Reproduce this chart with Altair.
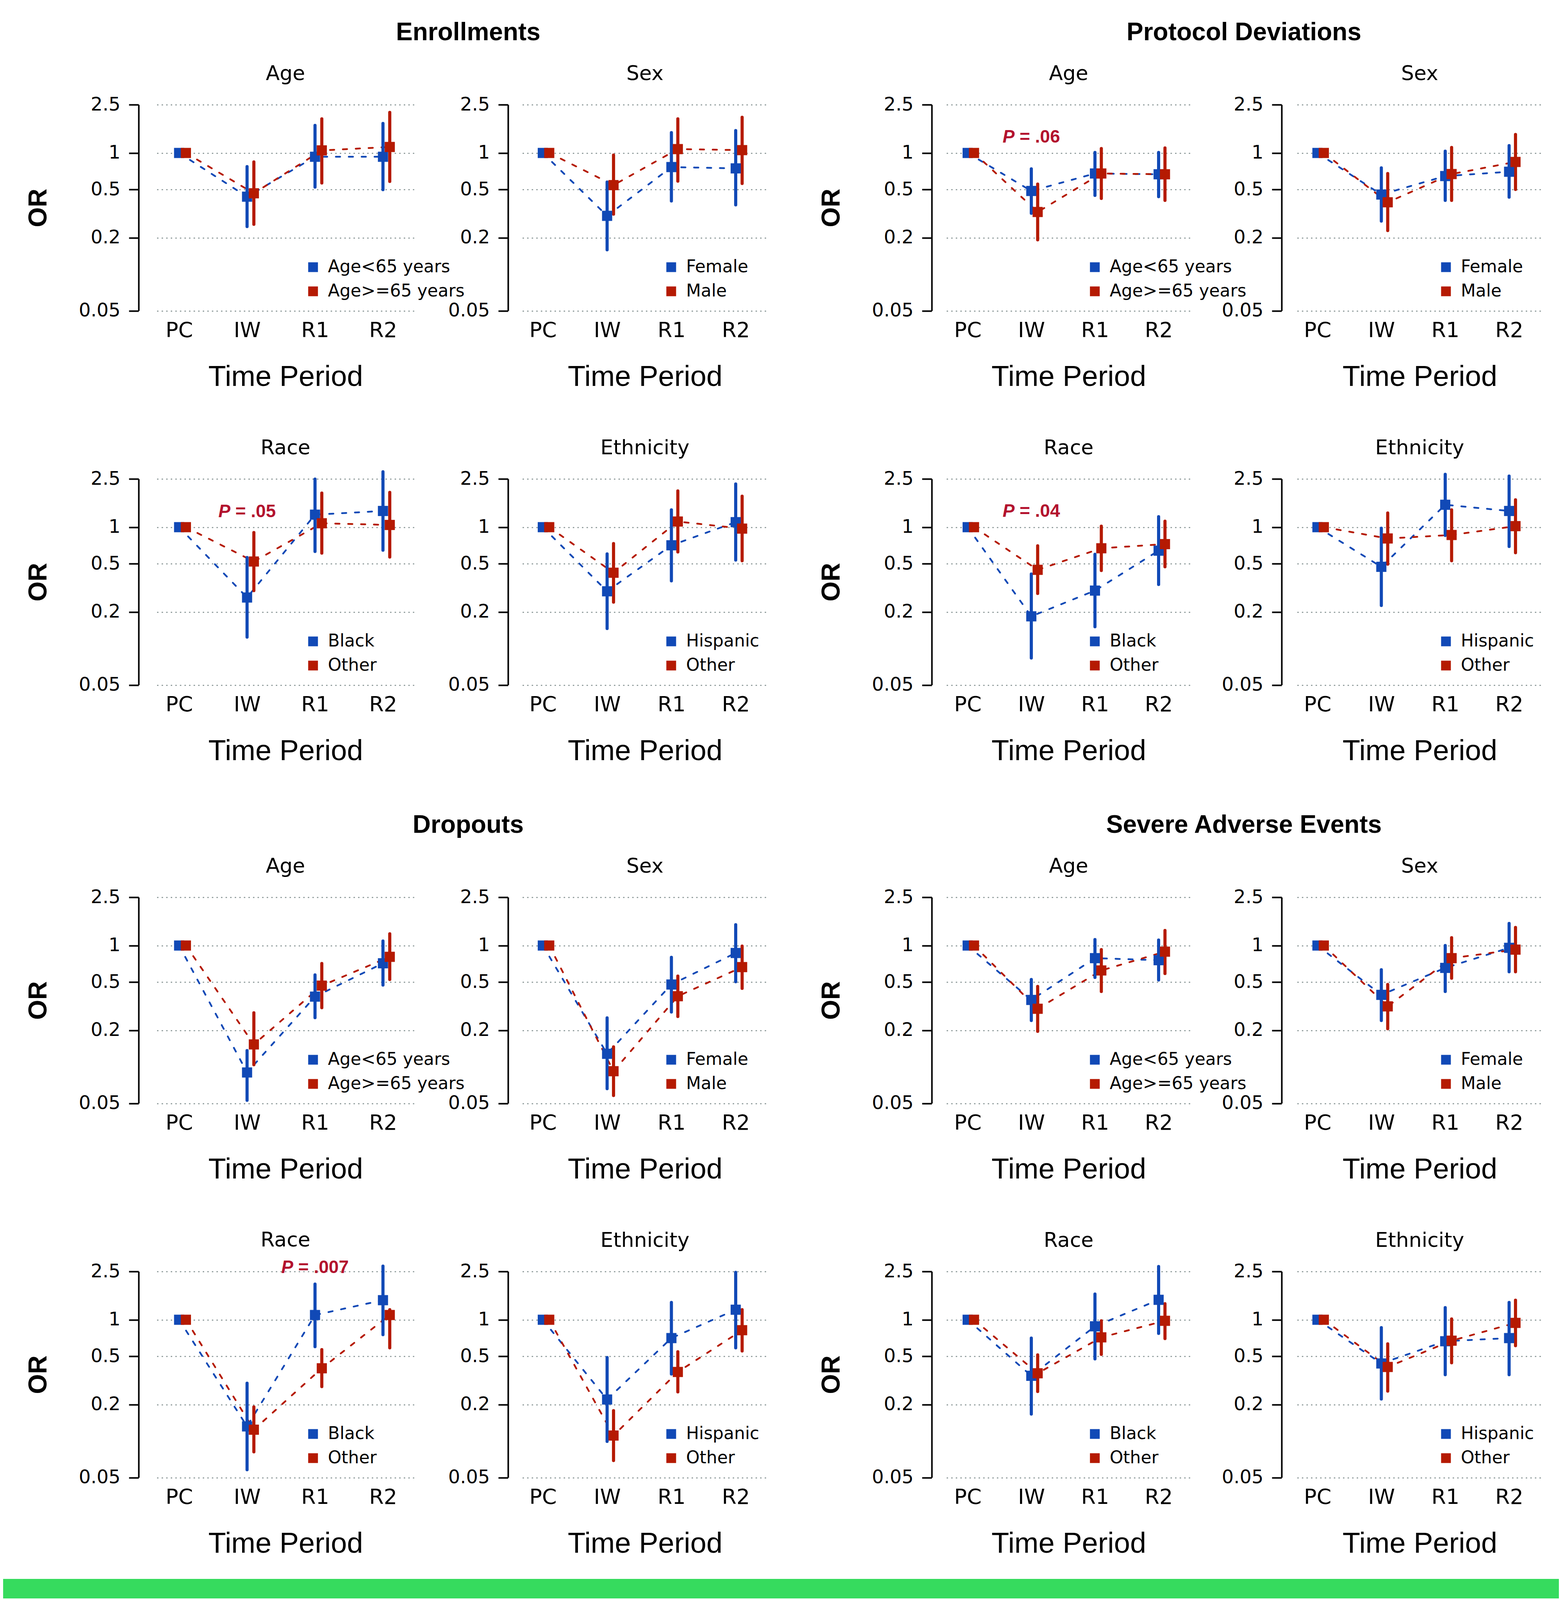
import math
import altair as alt
import pandas as pd

NA = float("nan")

# ---------------- data ----------------
PERIODS = ["PC", "IW", "R1", "R2"]
Y_TICKS = [0.05, 0.2, 0.5, 1, 2.5]

# Enrollments
ENR_AGE = dict(title="Age", labels=["Age<65 years", "Age>=65 years"],
               a=[1, 0.436, 0.93, 0.93], a_lo=[NA, 0.247, 0.523, 0.498], a_hi=[NA, 0.772, 1.686, 1.75],
               b=[1, 0.465, 1.05, 1.12], b_lo=[NA, 0.258, 0.565, 0.582], b_hi=[NA, 0.843, 1.91, 2.16])
ENR_SEX = dict(title="Sex", labels=["Female", "Male"],
               a=[1, 0.303, 0.765, 0.746], a_lo=[NA, 0.159, 0.402, 0.373], a_hi=[NA, 0.576, 1.47, 1.53],
               b=[1, 0.543, 1.076, 1.055], b_lo=[NA, 0.313, 0.585, 0.56], b_hi=[NA, 0.96, 1.91, 1.97])
ENR_RACE = dict(title="Race", labels=["Black", "Other"],
                a=[1, 0.263, 1.268, 1.36], a_lo=[NA, 0.124, 0.631, 0.646], a_hi=[NA, 0.562, 2.49, 2.86],
                b=[1, 0.521, 1.077, 1.043], b_lo=[NA, 0.30, 0.611, 0.567], b_hi=[NA, 0.903, 1.91, 1.935])
ENR_ETH = dict(title="Ethnicity", labels=["Hispanic", "Other"],
               a=[1, 0.296, 0.709, 1.10], a_lo=[NA, 0.146, 0.361, 0.536], a_hi=[NA, 0.602, 1.39, 2.27],
               b=[1, 0.421, 1.113, 0.973], b_lo=[NA, 0.241, 0.625, 0.529], b_hi=[NA, 0.732, 1.99, 1.80])

# Protocol deviations
PD_AGE = dict(title="Age", labels=["Age<65 years", "Age>=65 years"],
              a=[1, 0.486, 0.677, 0.667], a_lo=[NA, 0.318, 0.447, 0.436], a_hi=[NA, 0.739, 1.01, 1.01],
              b=[1, 0.326, 0.677, 0.667], b_lo=[NA, 0.192, 0.422, 0.406], b_hi=[NA, 0.554, 1.087, 1.10])
PD_SEX = dict(title="Sex", labels=["Female", "Male"],
              a=[1, 0.454, 0.645, 0.70], a_lo=[NA, 0.274, 0.406, 0.432], a_hi=[NA, 0.754, 1.035, 1.15],
              b=[1, 0.392, 0.67, 0.843], b_lo=[NA, 0.229, 0.406, 0.50], b_hi=[NA, 0.677, 1.11, 1.42])
PD_RACE = dict(title="Race", labels=["Black", "Other"],
               a=[1, 0.184, 0.30, 0.64], a_lo=[NA, 0.0834, 0.151, 0.337], a_hi=[NA, 0.411, 0.597, 1.22],
               b=[1, 0.445, 0.67, 0.725], b_lo=[NA, 0.284, 0.439, 0.471], b_hi=[NA, 0.702, 1.02, 1.12])
PD_ETH = dict(title="Ethnicity", labels=["Hispanic", "Other"],
              a=[1, 0.471, 1.53, 1.36], a_lo=[NA, 0.226, 0.854, 0.693], a_hi=[NA, 0.98, 2.73, 2.64],
              b=[1, 0.807, 0.862, 1.02], b_lo=[NA, 0.495, 0.529, 0.616], b_hi=[NA, 1.31, 1.39, 1.68])

# Dropouts
DO_AGE = dict(title="Age", labels=["Age<65 years", "Age>=65 years"],
              a=[1, 0.0898, 0.379, 0.714], a_lo=[NA, 0.053, 0.254, 0.472], a_hi=[NA, 0.136, 0.573, 1.09],
              b=[1, 0.153, 0.467, 0.807], b_lo=[NA, 0.104, 0.307, 0.525], b_hi=[NA, 0.279, 0.711, 1.25])
DO_SEX = dict(title="Sex", labels=["Female", "Male"],
              a=[1, 0.128, 0.477, 0.868], a_lo=[NA, 0.066, 0.283, 0.503], a_hi=[NA, 0.253, 0.799, 1.485],
              b=[1, 0.092, 0.382, 0.664], b_lo=[NA, 0.058, 0.26, 0.443], b_hi=[NA, 0.146, 0.56, 0.99])
DO_RACE = dict(title="Race", labels=["Black", "Other"],
               a=[1, 0.132, 1.094, 1.45], a_lo=[NA, 0.058, 0.60, 0.753], a_hi=[NA, 0.30, 1.97, 2.77],
               b=[1, 0.124, 0.398, 1.094], b_lo=[NA, 0.0814, 0.281, 0.587], b_hi=[NA, 0.191, 0.567, 1.21])
DO_ETH = dict(title="Ethnicity", labels=["Hispanic", "Other"],
              a=[1, 0.22, 0.706, 1.21], a_lo=[NA, 0.0993, 0.357, 0.587], a_hi=[NA, 0.488, 1.39, 2.46],
              b=[1, 0.111, 0.371, 0.82], b_lo=[NA, 0.069, 0.254, 0.553], b_hi=[NA, 0.178, 0.545, 1.21])

# Severe adverse events
SAE_AGE = dict(title="Age", labels=["Age<65 years", "Age>=65 years"],
               a=[1, 0.356, 0.787, 0.757], a_lo=[NA, 0.241, 0.546, 0.52], a_hi=[NA, 0.525, 1.12, 1.11],
               b=[1, 0.301, 0.623, 0.89], b_lo=[NA, 0.196, 0.418, 0.588], b_hi=[NA, 0.46, 0.925, 1.33])
SAE_SEX = dict(title="Sex", labels=["Female", "Male"],
               a=[1, 0.392, 0.654, 0.957], a_lo=[NA, 0.241, 0.418, 0.608], a_hi=[NA, 0.632, 1.0, 1.52],
               b=[1, 0.315, 0.787, 0.925], b_lo=[NA, 0.206, 0.538, 0.608], b_hi=[NA, 0.477, 1.16, 1.41])
SAE_RACE = dict(title="Race", labels=["Black", "Other"],
                a=[1, 0.345, 0.883, 1.46], a_lo=[NA, 0.167, 0.476, 0.772], a_hi=[NA, 0.706, 1.63, 2.75],
                b=[1, 0.362, 0.716, 0.98], b_lo=[NA, 0.256, 0.518, 0.699], b_hi=[NA, 0.513, 0.98, 1.355])
SAE_ETH = dict(title="Ethnicity", labels=["Hispanic", "Other"],
               a=[1, 0.436, 0.665, 0.706], a_lo=[NA, 0.222, 0.352, 0.352], a_hi=[NA, 0.861, 1.26, 1.39],
               b=[1, 0.408, 0.672, 0.942], b_lo=[NA, 0.258, 0.442, 0.611], b_hi=[NA, 0.633, 1.015, 1.45])

# P-value annotations: (text after "P", period, OR level)
P_ENR_RACE = ("= .05", "IW", 1.34)
P_PD_AGE = ("= .06", "IW", 1.35)
P_PD_RACE = ("= .04", "IW", 1.35)
P_DO_RACE = ("= .007", "R1", 2.7)

GROUP_TITLES = ["Enrollments", "Protocol Deviations", "Dropouts", "Severe Adverse Events"]

# ---------------- style / layout ----------------
BLUE = "#1149B6"
RED = "#B51A02"
PCOL = "#B3122E"
GRID = "#8E9A9A"
GREEN = "#36DB5E"
FONT = "Liberation Sans"
FONT_WIDE = "DejaVu Sans"

# the photographed page is ~4098 px tall: vertical distances are scaled to fit it
K = 0.9369

# grid columns: left margin, 7 layout columns, right margin
COL_W = [395, 656, 280, 625, 461, 623, 275, 625, 44]
PANEL_COLS = [1, 3, 5, 7]
X_DOM = {1: [0.68, 4.45], 3: [0.69, 4.486], 5: [0.675, 4.497], 7: [0.69, 4.51]}
AX_OFF = {1: 48, 3: 38, 5: 39, 7: 41}
PLOT_H = round(563 * K, 1)
TOP_H = round(285.5 * K - 8, 1)
GAPS = [round(459 * K, 1), round(579 * K, 1), round(458 * K, 1)]
ROW3_BOTTOM = 8 + TOP_H + 4 * PLOT_H + sum(GAPS)
BAND_GAP = round(4310 * K - ROW3_BOTTOM, 1)
BAND_H = 50
RED_SHIFT = 0.1
LABEL_EXPR = "[" + ",".join("'%s'" % p for p in PERIODS) + "][datum.value - 1]"

ARIAL_BOLD_W = {"P": 0.667, " ": 0.278, "=": 0.584, ".": 0.278}
P_SIZE = 46
LEG_FS = 44
LEG_PITCH = 66 * K


def text_w(s):
    return sum(ARIAL_BOLD_W.get(c, 0.556) for c in s) * P_SIZE


def panel(spec, col, show_or, p=None):
    w = COL_W[col]
    rows = []
    for key, lab, off in (("a", spec["labels"][0], 0.0), ("b", spec["labels"][1], RED_SHIFT)):
        for i, per in enumerate(PERIODS):
            rows.append(dict(period=per, xpos=i + 1 + off, grp=lab, est=spec[key][i],
                             lo=spec[key + "_lo"][i], hi=spec[key + "_hi"][i]))
    df = pd.DataFrame(rows)

    xaxis = alt.Axis(values=[1, 2, 3, 4], labelExpr=LABEL_EXPR, title="Time Period",
                     domain=False, ticks=False, tickSize=0, grid=False,
                     labelPadding=66.7, labelBaseline="alphabetic", labelFont=FONT_WIDE, labelFontSize=54,
                     labelFlush=False, labelOverlap=False, labelColor="black",
                     titleFont=FONT, titleFontSize=74, titleFontWeight="normal", titleColor="black",
                     titleY=191.6, titleBaseline="alphabetic")
    yargs = dict(values=Y_TICKS, format="~g", offset=AX_OFF[col], grid=True, gridColor=GRID,
                 gridDash=[1, 10.7], gridCap="round", gridWidth=3.2,
                 domainColor="black", domainWidth=4, tickColor="black", tickWidth=4, tickSize=25,
                 labelPadding=22, labelFont=FONT_WIDE, labelFontSize=48, labelColor="black",
                 labelFlush=False, labelOverlap=False)
    if show_or:
        yargs.update(title="OR", titleFont=FONT, titleFontSize=66, titleFontWeight="bold",
                     titleColor="black", titleX=-237, titleY=PLOT_H / 2, titleBaseline="alphabetic",
                     titleAngle=270, titleAlign="center")
    else:
        yargs.update(title=None)
    yaxis = alt.Axis(**yargs)

    xsc = alt.Scale(domain=X_DOM[col], nice=False, zero=False)
    ysc = alt.Scale(type="log", domain=[0.05, 2.5], nice=False)
    x = alt.X("xpos:Q", scale=xsc, axis=xaxis)
    y = alt.Y("est:Q", scale=ysc, axis=yaxis)
    ylo = alt.Y("lo:Q", scale=ysc, axis=yaxis)
    cscale = alt.Scale(domain=spec["labels"], range=[BLUE, RED])
    legend = alt.Legend(title=None, orient="none", legendX=0.607 * w - 21.5,
                        legendY=444 * K - LEG_FS / 2,
                        symbolType="square", symbolSize=625, symbolStrokeWidth=0,
                        labelFont=FONT_WIDE, labelFontSize=LEG_FS, labelColor="black",
                        labelOffset=16, rowPadding=LEG_PITCH - LEG_FS, labelLimit=1000)

    base = alt.Chart(df)
    layers = []
    for lab, colr in zip(spec["labels"], [BLUE, RED]):
        layers.append(base.transform_filter(alt.datum.grp == lab).mark_line(
            strokeWidth=4.5, strokeDash=[11, 22], strokeCap="round", color=colr).encode(x=x, y=y))
    for lab, colr in zip(spec["labels"], [BLUE, RED]):
        layers.append(base.transform_filter(alt.datum.grp == lab).mark_rule(
            strokeWidth=8, strokeCap="round", color=colr).encode(x=x, y=ylo, y2="hi:Q"))
    layers.append(base.mark_square(size=676, opacity=1, filled=True).encode(
        x=x, y=y, color=alt.Color("grp:N", scale=cscale, legend=legend)))

    top_extent = 25.0
    if p is not None:
        txt, per, level = p
        pdf = pd.DataFrame({"xpos": [PERIODS.index(per) + 1], "est": [level]})
        dx0 = -text_w("P " + txt) / 2
        common = dict(font=FONT, fontWeight="bold", fontSize=P_SIZE, color=PCOL,
                      align="left", baseline="middle")
        t1 = alt.Chart(pdf).mark_text(text="P", fontStyle="italic", dx=dx0, **common).encode(x=x, y=y)
        t2 = alt.Chart(pdf).mark_text(text=txt, dx=dx0 + text_w("P "), **common).encode(x=x, y=y)
        layers += [t1, t2]
        above = math.log(level / 2.5) * PLOT_H / math.log(2.5 / 0.05)
        top_extent = max(top_extent, above + P_SIZE / 2)

    title = alt.TitleParams(text=spec["title"], font=FONT_WIDE, fontSize=52, fontWeight="normal",
                            anchor="middle", frame="group", baseline="alphabetic",
                            offset=0, dy=round(73 - 64.5 * K + (top_extent - 25.0), 1), color="black")
    return alt.layer(*layers).properties(width=w, height=PLOT_H, title=title)


def spacer(w, h, title=None):
    d = pd.DataFrame({"v": [0]})
    ch = alt.Chart(d).mark_point(size=1, opacity=0).encode(x=alt.value(2), y=alt.value(2))
    if title:
        return ch.properties(width=w, height=h, title=alt.TitleParams(
            text=title, font=FONT, fontSize=64, fontWeight="bold", anchor="middle",
            frame="group", baseline="alphabetic", offset=round(174.5 * K - 62.6, 1), color="black"))
    return ch.properties(width=w, height=h)


def band(w, x1):
    d = pd.DataFrame({"v": [0]})
    return alt.Chart(d).mark_rect(color=GREEN).encode(
        x=alt.value(0), x2=alt.value(x1), y=alt.value(0), y2=alt.value(BAND_H)
    ).properties(width=w, height=BAND_H)


def panel_row(specs, ps, titles=None):
    cells = [spacer(COL_W[0], PLOT_H)]
    for i, col in enumerate(PANEL_COLS):
        cells.append(panel(specs[i], col, i in (0, 2), ps[i]))
        if col == 1:
            cells.append(spacer(COL_W[2], PLOT_H, titles[0] if titles else None))
        elif col == 3:
            cells.append(spacer(COL_W[4], PLOT_H))
        elif col == 5:
            cells.append(spacer(COL_W[6], PLOT_H, titles[1] if titles else None))
    cells.append(spacer(COL_W[8], PLOT_H))
    return cells


def gap_row(h):
    return [spacer(1, h) for _ in COL_W]


cells = []
cells += gap_row(TOP_H)
cells += panel_row([ENR_AGE, ENR_SEX, PD_AGE, PD_SEX], [None, None, P_PD_AGE, None],
                   titles=GROUP_TITLES[0:2])
cells += gap_row(GAPS[0])
cells += panel_row([ENR_RACE, ENR_ETH, PD_RACE, PD_ETH], [P_ENR_RACE, None, P_PD_RACE, None])
cells += gap_row(GAPS[1])
cells += panel_row([DO_AGE, DO_SEX, SAE_AGE, SAE_SEX], [None, None, None, None],
                   titles=GROUP_TITLES[2:4])
cells += gap_row(GAPS[2])
cells += panel_row([DO_RACE, DO_ETH, SAE_RACE, SAE_ETH], [P_DO_RACE, None, None, None])
cells += gap_row(BAND_GAP)
cells += [band(w, w + 1 if i < len(COL_W) - 1 else w) for i, w in enumerate(COL_W)]

chart = alt.concat(*cells, columns=len(COL_W), spacing=0, bounds="flush", align="each").resolve_scale(
    x="independent", y="independent", color="independent"
).resolve_legend(color="independent").resolve_axis(
    x="independent", y="independent"
).properties(padding=0, background="white").configure_view(strokeWidth=0)

chart.save("out.html", embed_options={"renderer": "svg", "actions": False})
